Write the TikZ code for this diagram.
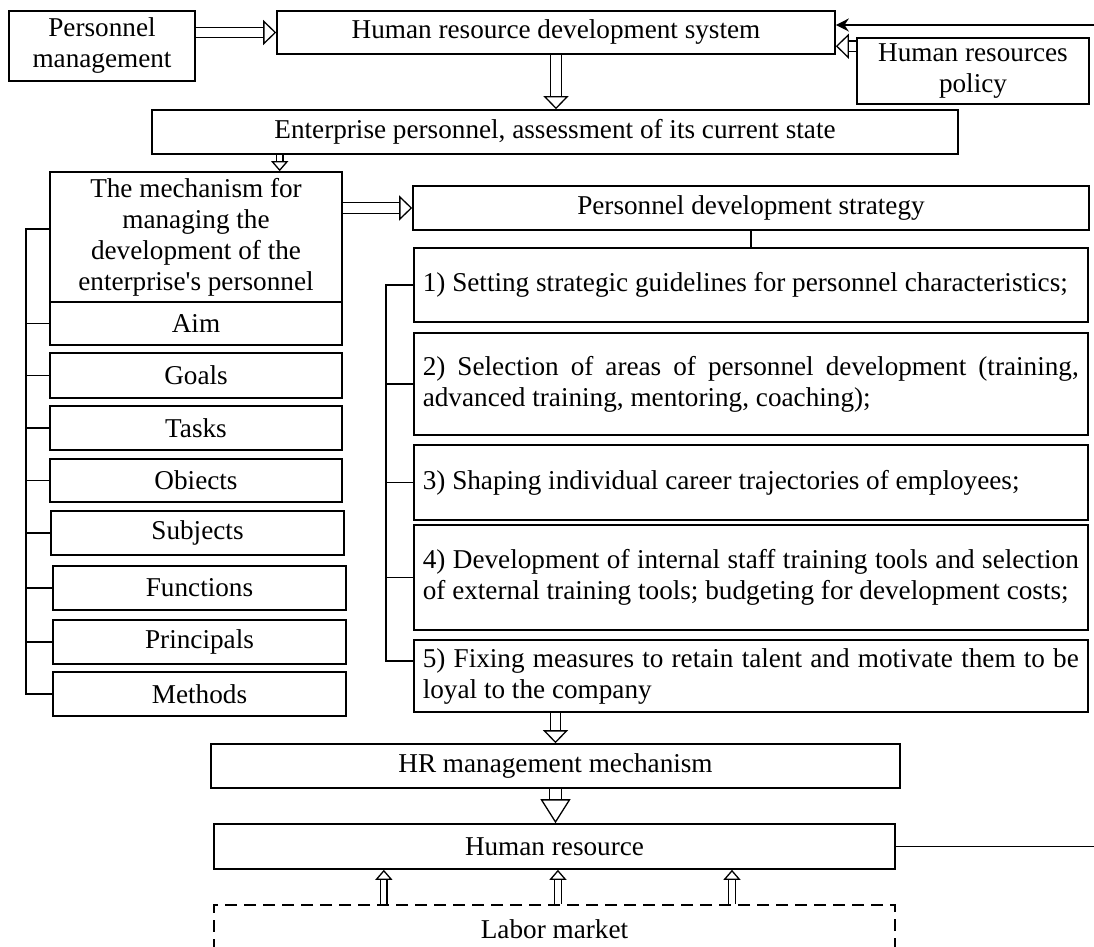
\documentclass[tikz,border=0pt]{standalone}
\usepackage{fontspec}
\setmainfont{Liberation Serif}
\usepackage{tikz}
\usetikzlibrary{arrows.meta,calc}

\begin{document}
\begin{tikzpicture}[x=0.5pt,y=-0.5pt,
    box/.style={draw,line width=0.8pt,inner sep=0pt,align=center,
      font=\fontsize{13.6}{15.5}\selectfont},
    itembox/.style={box,anchor=west,minimum width=0pt,text width=328pt,
      inner xsep=4.5pt,align=justify},
    dblarrow/.style={double,double distance=4.6pt,line width=0.65pt,
      -{Triangle[open,length=6.5pt,width=12.5pt,line width=0.65pt]}},
    bigarrow/.style={double,double distance=5.2pt,line width=0.65pt,
      -{Triangle[open,length=12pt,width=15pt,line width=0.65pt]}},
    thinarrow/.style={double,double distance=2.6pt,line width=0.65pt,
      -{Triangle[open,length=5pt,width=8.5pt,line width=0.65pt]}},
    tiparrow/.style={line width=0.7pt,-{Stealth[length=6.5pt,width=6.5pt]}},
    link/.style={line width=0.8pt}]
      \useasboundingbox (0,0) rectangle (1094,947);

      \node[box,minimum width=93pt,minimum height=35pt] (pm) at (102,46) {Personnel\\management};
      \node[box,minimum width=279pt,minimum height=21.5pt] (hrds) at (556,32.5) {Human resource development system};
      \node[box,minimum width=116pt,minimum height=33pt] (hrp) at (973,71) {Human resources\\policy};
      \node[box,minimum width=403pt,minimum height=22pt] (ent) at (555,132) {Enterprise personnel, assessment of its current state};
      \node[box,minimum width=146pt,minimum height=65pt] (mech) at (196,237) {The mechanism for\\managing the\\development of the\\enterprise\textquotesingle s personnel};
      \node[box,minimum width=338pt,minimum height=22pt] (strat) at (751,208) {Personnel development strategy};

      \node[box,minimum width=146pt,minimum height=21.5pt] (aim) at (196,323.5) {Aim};
      \node[box,minimum width=146pt,minimum height=22.5pt] (goals) at (196,375.5) {Goals};
      \node[box,minimum width=146pt,minimum height=22pt] (tasks) at (196,428) {Tasks};
      \node[box,minimum width=146pt,minimum height=21.5pt] (obiects) at (196,480.5) {Obiects};
      \node[box,minimum width=146.5pt,minimum height=22pt] (subjects) at (197.5,533) {Subjects};
      \node[box,minimum width=146.5pt,minimum height=22pt] (functions) at (199.5,588) {Functions};
      \node[box,minimum width=146.5pt,minimum height=22pt] (principals) at (199.5,642) {Principals};
      \node[box,minimum width=146.5pt,minimum height=22pt] (methods) at (199.5,694) {Methods};

      \node[itembox,minimum height=37pt] (s1) at (413,285) {1) Setting strategic guidelines for personnel characteristics;};
      \node[itembox,minimum height=51pt] (s2) at (413,384) {2) Selection of areas of personnel development (training,\linebreak advanced training, mentoring, coaching);};
      \node[itembox,minimum height=37.5pt] (s3) at (413,482.5) {3) Shaping individual career trajectories of employees;};
      \node[itembox,minimum height=52.5pt] (s4) at (413,577.5) {4) Development of internal staff training tools and selection\linebreak of external training tools; budgeting for development costs;};
      \node[itembox,minimum height=36pt] (s5) at (413,676) {5) Fixing measures to retain talent and motivate them to be\linebreak loyal to the company};

      \node[box,minimum width=344.5pt,minimum height=22pt] (hrm) at (555.5,766) {HR management mechanism};
      \node[box,minimum width=340.5pt,minimum height=22.5pt] (hr) at (554.5,846.5) {Human resource};
      \node[box,dash pattern=on 6pt off 3.5pt,minimum width=340.5pt,minimum height=24pt] (labor) at (554.5,929) {Labor market};

      \coordinate (hrpin) at ([yshift=-4.5pt]hrp.north west);
      \coordinate (mechin) at ($(mech.north west)!0.785!(mech.north east)$);
      \coordinate (mechtick) at ([yshift=4pt]mech.west);
      \coordinate (s5tick) at ([yshift=7.5pt]s5.west);
      \coordinate (fbtop) at (1100,25);
      \coordinate (lbar) at (26,0);
      \coordinate (rbar) at (386,0);

      \draw[dblarrow] (pm.east |- hrds) -- (hrds.west);
      \draw[dblarrow] (hrpin) -- (hrpin -| hrds.east);
      \draw[tiparrow] (hr.east) -| (fbtop) -- (fbtop -| hrds.east);
      \draw[dblarrow] (hrds.south) -- (hrds.south |- ent.north);
      \draw[thinarrow] (mechin |- ent.south) -- (mechin);
      \draw[dblarrow] (mech.east |- strat) -- (strat.west);
      \draw[link] (strat.south) -- (strat.south |- s1.north);
      \draw[dblarrow] (hrm.north |- s5.south) -- (hrm.north);
      \draw[bigarrow] (hrm.south) -- (hrm.south |- hr.north);
      \foreach \f in {0.25,0.505,0.76}
        \draw[thinarrow] ($(labor.north west)!\f!(labor.north east)$) -- ($(hr.south west)!\f!(hr.south east)$);

      \draw[link] (mechtick) -- (mechtick -| lbar) -- (lbar |- methods.west) -- (methods.west);
      \draw[link] (aim.west) -- (aim.west -| lbar);
      \draw[link] (goals.west) -- (goals.west -| lbar);
      \draw[link] (tasks.west) -- (tasks.west -| lbar);
      \draw[link] (obiects.west) -- (obiects.west -| lbar);
      \draw[link] (subjects.west) -- (subjects.west -| lbar);
      \draw[link] (functions.west) -- (functions.west -| lbar);
      \draw[link] (principals.west) -- (principals.west -| lbar);

      \draw[link] (s1.west) -- (s1.west -| rbar) -- (rbar |- s5tick) -- (s5tick);
      \draw[link] (s2.west) -- (s2.west -| rbar);
      \draw[link] (s3.west) -- (s3.west -| rbar);
      \draw[link] (s4.west) -- (s4.west -| rbar);
    \end{tikzpicture}
\end{document}
